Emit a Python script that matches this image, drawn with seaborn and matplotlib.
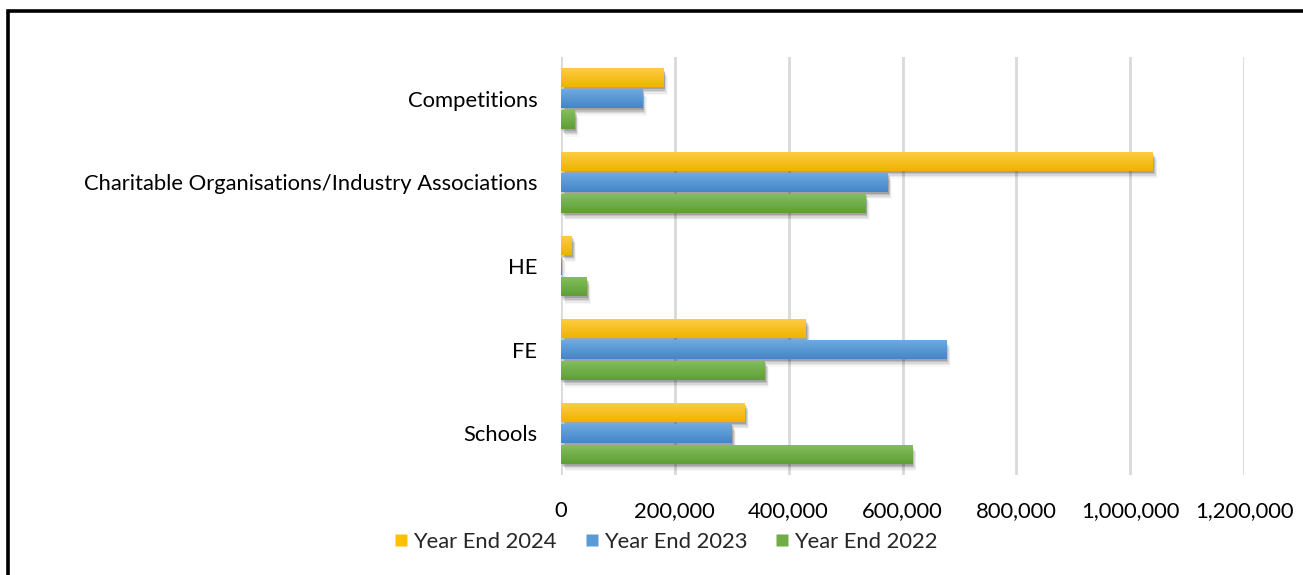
import numpy as np
import pandas as pd
import matplotlib
matplotlib.use("Agg")
import matplotlib.pyplot as plt
import seaborn as sns
from matplotlib import patheffects as pe
from matplotlib.colors import LinearSegmentedColormap
from matplotlib.ticker import FuncFormatter, MultipleLocator
from matplotlib.lines import Line2D
from matplotlib.patches import Rectangle

# ---- data -------------------------------------------------------------
categories = ["Competitions",
              "Charitable Organisations/Industry Associations",
              "HE", "FE", "Schools"]
series = ["Year End 2024", "Year End 2023", "Year End 2022"]
ye_2024 = [180000, 1040000, 19000, 430000, 323000]
ye_2023 = [143000, 574000, 1500, 677000, 300000]
ye_2022 = [24000, 535000, 45000, 358000, 617000]

# gradient colours (top, bottom) per series
grad_colors = {
    "Year End 2024": ("#FFCB45", "#EDB400"),
    "Year End 2023": ("#6EAAE1", "#4585C8"),
    "Year End 2022": ("#82BE5D", "#5F9E36"),
}
solid_colors = {"Year End 2024": "#FFC000",
                "Year End 2023": "#5B9BD5",
                "Year End 2022": "#70AD47"}

df = pd.DataFrame({
    "Category": categories * 3,
    "Series": [s for s in series for _ in categories],
    "Value": ye_2024 + ye_2023 + ye_2022,
})

# ---- figure -----------------------------------------------------------
sns.set_theme(style="white")
plt.rcParams["font.family"] = ["Lato", "DejaVu Sans"]

W, H, DPI = 1303, 575, 100
fig = plt.figure(figsize=(W / DPI, H / DPI), dpi=DPI)
fig.patch.set_facecolor("white")
ax = fig.add_axes([561 / W, 1 - 475 / H, (1244 - 561) / W, (475 - 57) / H])

sns.barplot(data=df, y="Category", x="Value", hue="Series",
            order=categories, hue_order=series,
            palette=solid_colors, orient="h",
            width=0.75, gap=0.1, ax=ax, legend=False, zorder=3)

ax.set_xlim(0, 1200000)
ylim = ax.get_ylim()

# soft drop shadow (several faint layers), then a vertical gradient
shadow_layers = [pe.SimplePatchShadow(offset=(dx, -dy), shadow_rgbFace="black",
                                      alpha=a)
                 for dx, dy, a in [(0.8, 1.5, 0.14), (1.4, 2.5, 0.11),
                                   (2.0, 3.5, 0.08), (2.6, 4.5, 0.05),
                                   (3.0, 5.5, 0.03)]]
n_cat = len(categories)
for i, patch in enumerate(ax.patches):
    s = series[i // n_cat]
    patch.set_path_effects(shadow_layers + [pe.Normal()])
    patch.set_edgecolor("none")
    x0, y0 = patch.get_x(), patch.get_y()
    w, h = patch.get_width(), patch.get_height()
    if w <= 0:
        continue
    top, bottom = grad_colors[s]
    cmap = LinearSegmentedColormap.from_list(s, [top, bottom])
    grad = np.linspace(0, 1, 64).reshape(-1, 1)
    # y axis is inverted: y0 is the visual top of the bar
    im = ax.imshow(grad, cmap=cmap, aspect="auto",
                   extent=(x0, x0 + w, y0 + h, y0), origin="upper",
                   zorder=4, interpolation="bilinear")
    im.set_clip_path(patch)

ax.set_ylim(ylim)
ax.set_xlim(0, 1200000)

# axes styling
ax.xaxis.set_major_locator(MultipleLocator(200000))
ax.xaxis.set_major_formatter(FuncFormatter(lambda v, _: f"{int(v):,}"))
ax.grid(axis="x", color="#D9D9D9", linewidth=2, zorder=0)
ax.grid(axis="y", visible=False)
for sp in ax.spines.values():
    sp.set_visible(False)
ax.tick_params(axis="both", length=0, labelsize=15.8, colors="black")
ax.tick_params(axis="y", pad=17)
ax.tick_params(axis="x", pad=19)
ax.set_xlabel("")
ax.set_ylabel("")

# legend along the bottom
handles = [Line2D([], [], marker="s", linestyle="none", markersize=9,
                  markerfacecolor=solid_colors[s], markeredgecolor="none")
           for s in series]
fig.legend(handles, series, loc="center", bbox_to_anchor=(665 / W, 1 - 542 / H),
           ncol=3, frameon=False, fontsize=15.8, handletextpad=0.15,
           columnspacing=1.2, handlelength=0.8)

# outer frame
fig.patches.append(Rectangle((8 / W, -0.2), 1.3, 1 - 11 / H + 0.2,
                             transform=fig.transFigure, fill=False,
                             edgecolor="black", linewidth=2.6, zorder=10))

fig.savefig("out.png", dpi=DPI, facecolor="white")
